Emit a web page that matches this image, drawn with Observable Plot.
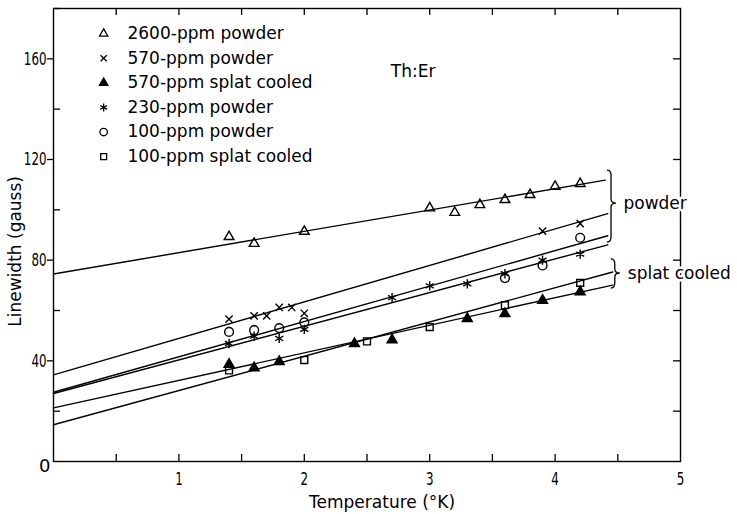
<!DOCTYPE html>
<html>
<head>
<meta charset="utf-8">
<script src="https://cdn.jsdelivr.net/npm/d3@7"></script>
<script src="https://cdn.jsdelivr.net/npm/@observablehq/plot@0.6"></script>
<style>
  html, body { margin: 0; padding: 0; background: #fff; }
  #chart svg { display: block; }
</style>
</head>
<body>
<div id="chart"></div>
<script>
// ---------- data ----------
const seriesLabels = ["2600-ppm powder", "570-ppm powder", "570-ppm splat cooled",
                      "230-ppm powder", "100-ppm powder", "100-ppm splat cooled"];

const t2600 = [1.4, 1.6, 2.0, 3.0, 3.2, 3.4, 3.6, 3.8, 4.0, 4.2];
const w2600 = [89.3, 86.6, 91.4, 100.7, 98.9, 102.0, 104.0, 106.0, 109.3, 110.4];

const t570p = [1.4, 1.6, 1.7, 1.8, 1.9, 2.0, 3.9, 4.2];
const w570p = [56.6, 57.9, 57.9, 61.2, 61.2, 58.9, 91.5, 94.5];

const t570s = [1.4, 1.6, 1.8, 2.4, 2.7, 3.3, 3.6, 3.9, 4.2];
const w570s = [38.6, 37.2, 39.7, 46.8, 48.3, 56.8, 58.7, 64.0, 67.4];

const t230p = [1.4, 1.6, 1.8, 2.0, 2.7, 3.0, 3.3, 3.6, 3.9, 4.2];
const w230p = [46.9, 49.8, 48.9, 52.5, 65.1, 69.8, 70.6, 74.6, 80.0, 82.4];

const t100p = [1.4, 1.6, 1.8, 2.0, 3.6, 3.9, 4.2];
const w100p = [51.5, 52.2, 53.0, 55.3, 72.9, 77.9, 88.9];

const t100s = [1.4, 2.0, 2.5, 3.0, 3.6, 4.2];
const w100s = [36.2, 40.3, 47.7, 53.4, 62.1, 71.0];

// fitted straight lines (start at T = 0, end at lineEndT)
const lineEndT = [4.40, 4.42, 4.42, 4.42, 4.46, 4.46];
const lineW0   = [74.5, 34.4, 27.5, 27.0, 21.3, 14.6];
const lineW1   = [111.8, 98.5, 89.7, 86.1, 70.1, 75.3];

// group brackets on the right
const groupLabels = ["powder", "splat cooled"];
const groupTop    = [115.6, 80.3];
const groupBottom = [87.0, 68.7];
const groupMid    = [102.5, 74.7];

const xTickLabels = [1, 2, 3, 4, 5];
const yTickLabels = [40, 80, 120, 160];
const title = "Th:Er";
const xTitle = "Temperature (°K)";
const yTitle = "Linewidth (gauss)";

// ---------- styles ----------
const seriesT = [t2600, t570p, t570s, t230p, t100p, t100s];
const seriesW = [w2600, w570p, w570s, w230p, w100p, w100s];
const symbols = ["triangle", "times", "triangle", "asterisk", "circle", "square"];
const fills   = ["none", "none", "black", "none", "none", "none"];
const radii   = [3.6, 3.4, 3.7, 4.4, 4.4, 3.9];

const W = 737, H = 514;
const mL = 53, mR = 57, mT = 8, mB = 53;
const pw = W - mL - mR, ph = H - mT - mB;
const sans = "DejaVu Sans, Noto Sans, sans-serif";
const digitsFont = "DejaVu Sans, sans-serif";
const squeeze = 0.66;

const lines = lineEndT.flatMap((te, i) => [
  {id: i, T: 0, W: lineW0[i]},
  {id: i, T: te, W: lineW1[i]}
]);

const groups = groupLabels.map((g, i) => ({g, top: groupTop[i], bot: groupBottom[i], mid: groupMid[i]}));
const braceX = [4.45, 4.48];
const labelX = [4.545, 4.58];

function braces(index, scales) {
  const g = d3.create("svg:g").attr("fill", "none").attr("stroke", "black").attr("stroke-width", 1.3);
  groups.forEach((d, i) => {
    const x = scales.x(braceX[i]);
    const y0 = scales.y(d.top), y1 = scales.y(d.bot), ym = scales.y(d.mid);
    g.append("path").attr("d",
      `M${x-4},${y0} Q${x},${y0} ${x},${y0+5} L${x},${ym-4} Q${x},${ym} ${x+5},${ym}` +
      ` Q${x},${ym} ${x},${ym+4} L${x},${y1-5} Q${x},${y1} ${x-4},${y1}`);
  });
  return g.node();
}

const marks = [];

// frame + ticks
marks.push(Plot.frame({stroke: "black", strokeWidth: 1.4}));
const halfTicks = d3.range(0.5, 5, 0.5);
marks.push(Plot.tickX(halfTicks, {x: d => d, insetTop: ph - 7, stroke: "black", strokeWidth: 1.3}));
marks.push(Plot.tickX(halfTicks, {x: d => d, insetBottom: ph - 7, stroke: "black", strokeWidth: 1.3}));
marks.push(Plot.tickY([20, 60, 100, 140, 180], {y: d => d, insetRight: pw - 7, stroke: "black", strokeWidth: 1.3}));
marks.push(Plot.tickY(d3.range(20, 180, 20), {y: d => d, insetLeft: pw - 7, stroke: "black", strokeWidth: 1.3}));

marks.push(Plot.axisY({ticks: yTickLabels, tickSize: 6, tickPadding: 1, label: null, tickFormat: d => String(d),
  fontSize: 18, fontFamily: digitsFont, stroke: "black", strokeWidth: 1.3, ariaLabel: "y-axis"}));
marks.push(Plot.axisX({ticks: xTickLabels, tickSize: 0, tickPadding: 11, label: null, tickFormat: d => String(d),
  fontSize: 18, fontFamily: digitsFont, ariaLabel: "x-axis"}));
marks.push(Plot.text(["0"], {frameAnchor: "bottom-left", dx: -3, dy: 10, textAnchor: "end",
  fontSize: 18, fontFamily: digitsFont, fill: "black", ariaLabel: "zero-label"}));

// fitted lines
marks.push(Plot.line(lines, {x: "T", y: "W", z: "id", stroke: "black", strokeWidth: 1.4}));

// data points
seriesT.forEach((ts, i) => {
  const pts = ts.map((t, j) => ({T: t, W: seriesW[i][j]}));
  marks.push(Plot.dot(pts, {x: "T", y: "W", symbol: symbols[i], r: radii[i],
    fill: fills[i], stroke: "black", strokeWidth: 1.4}));
});

// legend (inside the plot, top-left)
const legendRows = seriesLabels.map((name, i) => ({name, i, T: 0.40, W: 170 - 9.77 * i}));
legendRows.forEach((row, i) => {
  marks.push(Plot.dot([row], {x: "T", y: "W", symbol: symbols[i], r: radii[i] * 0.85,
    fill: fills[i], stroke: "black", strokeWidth: 1.3}));
});
marks.push(Plot.text(legendRows, {x: 0.59, y: "W", text: "name", textAnchor: "start",
  fontSize: 17, fontFamily: sans, fill: "black"}));

// title
marks.push(Plot.text([title], {x: 2.69, y: 155, textAnchor: "start", fontSize: 17, fontFamily: sans, fill: "black"}));

// brackets and group labels
marks.push(braces);
marks.push(Plot.text(groups, {x: (d, i) => labelX[i], y: "mid", text: "g", textAnchor: "start",
  fontSize: 17, fontFamily: sans, fill: "black", stroke: "white", strokeWidth: 5}));

// axis titles (placed outside the frame via unclamped scales)
marks.push(Plot.text([yTitle], {x: -0.30, y: 83.5, rotate: -90,
  fontSize: 17, fontFamily: sans, fill: "black", ariaLabel: "y-title"}));
marks.push(Plot.text([xTitle], {x: 2.62, y: -16.5,
  fontSize: 17, fontFamily: sans, fill: "black"}));

const chart = Plot.plot({
  width: W, height: H,
  marginLeft: mL, marginRight: mR, marginTop: mT, marginBottom: mB,
  x: {domain: [0, 5]},
  y: {domain: [0, 180]},
  style: {background: "white", color: "black", fontFamily: sans, fontSize: "17px"},
  marks
});

// condense the numeric tick labels (the original uses tall narrow lettering)
d3.select(chart)
  .selectAll('[aria-label="y-axis tick label"] text, [aria-label="x-axis tick label"] text, [aria-label="zero-label"] text')
  .each(function () {
    const t = this.getAttribute("transform") || "";
    this.setAttribute("transform", `${t} scale(${squeeze},1)`);
  });
// the original y title is lettered with wide spacing
d3.select(chart).selectAll('[aria-label="y-title"] text').style("letter-spacing", "2px");
document.getElementById("chart").appendChild(chart);
</script>
</body>
</html>
